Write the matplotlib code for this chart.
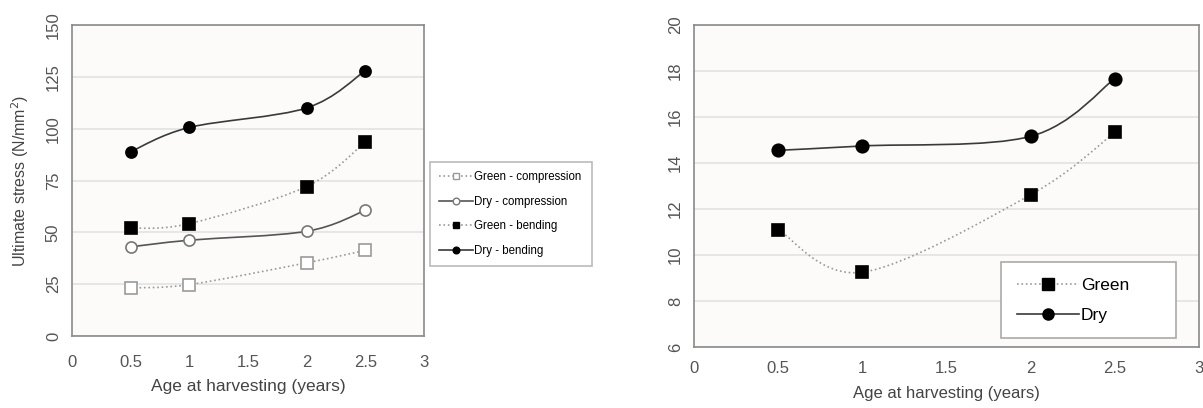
#!/usr/bin/env python3
'''ultimate stress vs age at harvesting, two panels'''
import numpy as np
import matplotlib
matplotlib.use('Agg')
import matplotlib.pyplot as plt
from matplotlib.path import Path
from matplotlib.patches import PathPatch
from matplotlib.lines import Line2D

plt.rcParams['font.family'] = ['Liberation Sans', 'DejaVu Sans']

age = [0.5, 1, 2, 2.5]

green_comp = [23.2, 24.8, 35.3, 41.3]
dry_comp = [43.0, 46.2, 50.5, 60.6]
green_bend = [52.0, 54.2, 72.1, 93.6]
dry_bend = [88.9, 100.6, 110.0, 128.0]

green_right = [11.1, 9.25, 12.62, 15.33]
dry_right = [14.55, 14.74, 15.16, 17.67]

left_labels = ['Green - compression', 'Dry - compression',
               'Green - bending', 'Dry - bending']
right_labels = ['Green', 'Dry']

DRY_COL = '#3a3a3a'
GREEN_COL = '#9a9a9a'
FRAME = '#8a8a8a'
TICK_COL = '#555555'


def smooth_path(x, y):
    '''cubic bezier path through the points (excel style smoothing)'''
    pts = np.column_stack([x, y]).astype(float)
    n = len(pts)
    verts = [pts[0]]
    codes = [Path.MOVETO]
    for i in range(n - 1):
        p0 = pts[i - 1] if i > 0 else pts[i]
        p1 = pts[i]
        p2 = pts[i + 1]
        p3 = pts[i + 2] if i + 2 < n else pts[i + 1]
        c1 = p1 + (p2 - p0) / 6.0
        c2 = p2 - (p3 - p1) / 6.0
        verts += [c1, c2, p2]
        codes += [Path.CURVE4] * 3
    return Path(verts, codes)


def series(ax, x, y, color, ls, marker, mfc, mec, ms, lw=1.2):
    ax.add_patch(PathPatch(smooth_path(x, y), fill=False, edgecolor=color,
                           lw=lw, linestyle=ls, zorder=3))
    ax.plot(x, y, linestyle='none', marker=marker, markersize=ms,
            markerfacecolor=mfc, markeredgecolor=mec, markeredgewidth=1.2,
            zorder=4)
    return Line2D([], [], color=color, linestyle=ls, lw=lw, marker=marker,
                  markersize=ms * 0.6, markerfacecolor=mfc,
                  markeredgecolor=mec)


def style_axes(ax, ymin, ymax, ystep, fs, xpad):
    ax.set_facecolor('#fcfbfa')
    for s in ax.spines.values():
        s.set_color(FRAME)
        s.set_linewidth(1.2)
    ax.set_xlim(0, 3)
    ax.set_ylim(ymin, ymax)
    ax.set_xticks(np.arange(0, 3.01, 0.5))
    ax.set_xticklabels(['0', '0.5', '1', '1.5', '2', '2.5', '3'])
    ax.set_yticks(np.arange(ymin, ymax + 0.01, ystep))
    ax.grid(axis='y', color='#e2e2e2', lw=1.2)
    ax.set_axisbelow(True)
    ax.tick_params(length=0, labelsize=12, colors=TICK_COL)
    ax.tick_params(axis='x', pad=xpad)
    ax.tick_params(axis='y', pad=8)
    for lab in ax.get_yticklabels():
        lab.set_rotation(90)
        lab.set_va('center')
    ax.set_xlabel('Age at harvesting (years)', fontsize=fs, color='#444444')


fig = plt.figure(figsize=(12.03, 4.08), dpi=100)

# left panel
ax1 = fig.add_axes([72 / 1203, 1 - 336 / 408, 352 / 1203, 311 / 408])
style_axes(ax1, 0, 150, 25, 12.5, 14)
ax1.xaxis.labelpad = 6
ax1.set_ylabel('Ultimate stress (N/mm$^2$)', fontsize=11.5, color='#444444',
               labelpad=11)
h1 = [
    series(ax1, age, green_comp, GREEN_COL, ':', 's', 'white', GREEN_COL, 8),
    series(ax1, age, dry_comp, '#555555', '-', 'o', 'white', '#777777', 8),
    series(ax1, age, green_bend, GREEN_COL, ':', 's', 'black', 'black', 8),
    series(ax1, age, dry_bend, DRY_COL, '-', 'o', 'black', 'black', 8),
]
leg1 = fig.legend(h1, left_labels, loc='upper left', mode='expand',
                  bbox_to_anchor=(430 / 1203, 1 - 162 / 408, 162 / 1203, 0),
                  bbox_transform=fig.transFigure, fontsize=8.3,
                  fancybox=False, edgecolor='#aaaaaa', handlelength=3.0,
                  handletextpad=0.1, labelspacing=1.12, borderpad=0.75,
                  borderaxespad=0)
leg1.get_frame().set_linewidth(1.2)

# right panel
ax2 = fig.add_axes([694 / 1203, 1 - 347 / 408, 505 / 1203, 322 / 408])
style_axes(ax2, 6, 20, 2, 12, 10)
ax2.xaxis.labelpad = 7
h2 = [
    series(ax2, age, green_right, GREEN_COL, ':', 's', 'black', 'black', 9),
    series(ax2, age, dry_right, DRY_COL, '-', 'o', 'black', 'black', 9),
]
leg2 = ax2.legend(h2, right_labels, loc='upper left', mode='expand',
                  bbox_to_anchor=(1001 / 1203, 1 - 262 / 408, 175 / 1203, 0),
                  bbox_transform=fig.transFigure, fontsize=12.5,
                  fancybox=False, edgecolor='#aaaaaa', handlelength=3.6,
                  handletextpad=0.1, labelspacing=0.85, borderpad=0.9,
                  borderaxespad=0, framealpha=1)
for h in leg2.legend_handles:
    h.set_markersize(8)
leg2.get_frame().set_linewidth(1.2)

fig.savefig('out.png', dpi=100)
